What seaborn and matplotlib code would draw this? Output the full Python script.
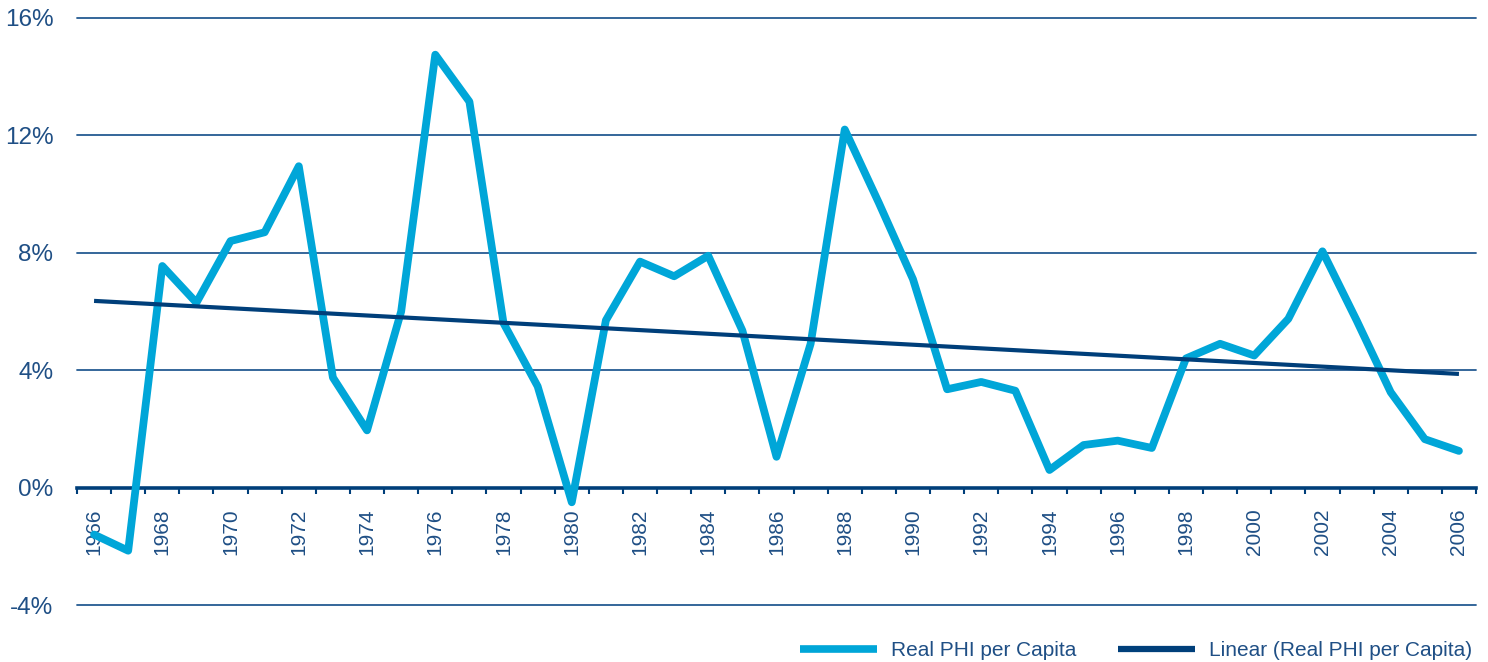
import numpy as np
import pandas as pd
import matplotlib
matplotlib.use("Agg")
import matplotlib.pyplot as plt
import seaborn as sns
from matplotlib.lines import Line2D
from matplotlib.ticker import FixedLocator, FuncFormatter

# data
years = list(range(1966, 2007))
phi_growth = [-1.6, -2.15, 7.55, 6.3, 8.4, 8.7, 10.95, 3.75, 1.95, 6.0,
              14.75, 13.15, 5.6, 3.45, -0.5, 5.7, 7.7, 7.2, 7.9, 5.35,
              1.05, 4.9, 12.2, 9.7, 7.1, 3.35, 3.6, 3.3, 0.6, 1.45,
              1.6, 1.35, 4.4, 4.9, 4.5, 5.75, 8.05, 5.7, 3.25, 1.65, 1.25]
y_ticks = [-4, 0, 4, 8, 12, 16]
label_years = list(range(1966, 2007, 2))
series_label = "Real PHI per Capita"
trend_label = "Linear (Real PHI per Capita)"

CYAN = "#00a6d8"
NAVY = "#003f7a"
GRID = "#245a92"
TEXT = "#1f4f85"

sns.set_theme(style="white")
plt.rcParams["font.family"] = ["Liberation Sans", "DejaVu Sans"]

df = pd.DataFrame({"year": years, "growth": phi_growth})

fig = plt.figure(figsize=(14.88, 6.62), dpi=100)
ax = fig.add_axes([77 / 1488, 1 - 605 / 662, (1476 - 77) / 1488, (605 - 18) / 662])

sns.lineplot(data=df, x="year", y="growth", ax=ax, color=CYAN, lw=5.6,
             solid_joinstyle="round", solid_capstyle="round", zorder=3)
# Excel-style linear trendline, fitted by seaborn
sns.regplot(data=df, x="year", y="growth", ax=ax, scatter=False, ci=None,
            line_kws={"color": NAVY, "lw": 3.0, "zorder": 4,
                      "solid_capstyle": "butt"})

ax.set_xlim(1965.5, 2006.5)
ax.set_ylim(-4, 16)
ax.set_xlabel("")
ax.set_ylabel("")

# y axis
ax.set_yticks(y_ticks)
ax.yaxis.set_major_formatter(FuncFormatter(lambda v, p: f"{int(v)}%"))
ax.tick_params(axis="y", length=0, pad=17, labelsize=17.5, labelcolor=TEXT)
ax.grid(axis="y", color=GRID, lw=1.3)
for gl in ax.get_ygridlines():
    gl.set_clip_on(False)

# x axis crossing at zero, ticks between categories
for s in ["top", "right", "left"]:
    ax.spines[s].set_visible(False)
ax.spines["bottom"].set_position(("data", 0))
ax.spines["bottom"].set_color(NAVY)
ax.spines["bottom"].set_linewidth(2.6)
ax.spines["bottom"].set_zorder(2)
ax.xaxis.set_major_locator(FixedLocator(np.arange(1965.5, 2007, 1.0)))
ax.xaxis.set_major_formatter(FuncFormatter(lambda v, p: ""))
ax.xaxis.set_minor_locator(FixedLocator(label_years))
ax.xaxis.set_minor_formatter(FuncFormatter(lambda v, p: f"{int(round(v))}"))
ax.tick_params(axis="x", which="major", direction="out", length=4.5, width=1.5,
               color=NAVY, bottom=True)
ax.tick_params(axis="x", which="minor", length=0, pad=15, labelsize=15,
               labelcolor=TEXT, labelrotation=90, bottom=True)
for lbl in ax.xaxis.get_minorticklabels():
    lbl.set_verticalalignment("top")

handles = [Line2D([], [], color=CYAN, lw=5.5, solid_capstyle="butt"),
           Line2D([], [], color=NAVY, lw=4.5, solid_capstyle="butt")]
fig.legend(handles, [series_label, trend_label], ncol=2, frameon=False,
           loc="center right", bbox_to_anchor=(0.989, 0.017),
           fontsize=15, labelcolor=TEXT, handlelength=3.7,
           handletextpad=0.65, columnspacing=2.0, borderpad=0, borderaxespad=0)

fig.savefig("out.png", dpi=100)
